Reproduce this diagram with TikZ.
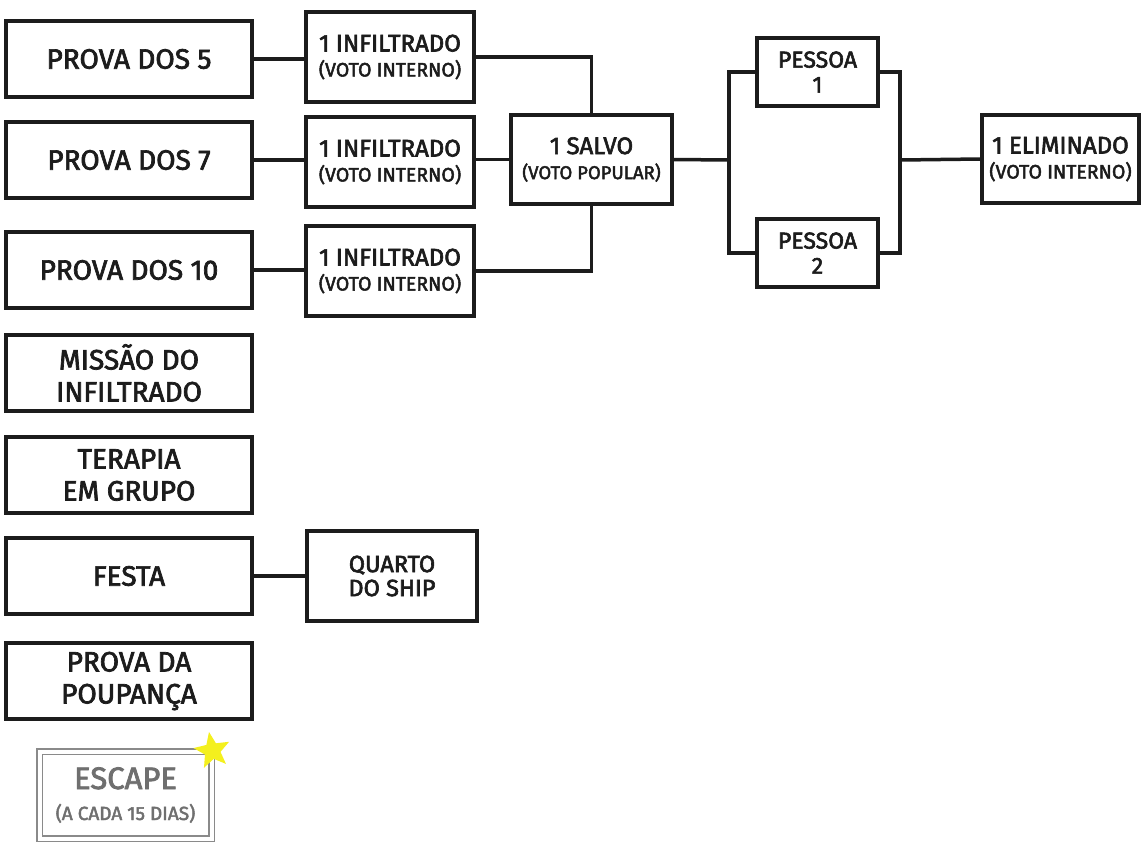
\documentclass[tikz,border=0pt]{standalone}
\usepackage{fontspec}
\setmainfont{Fira Sans}[FakeBold=2.5]
\usetikzlibrary{shapes.geometric}
\definecolor{ink}{HTML}{1C1C1C}
\definecolor{muted}{HTML}{8A8A8A}
\definecolor{mutedtext}{HTML}{6F6F6F}
\definecolor{spark}{HTML}{F4F01E}
\newcommand{\subline}[1]{{\fontsize{19.5}{20}\selectfont #1}}
\tikzset{
  every node/.style={inner sep=0pt,align=center,text=ink},
  stage/.style={draw=ink,line width=3.5pt,minimum width=246pt,minimum height=76pt,
    font=\fontsize{28}{32}\selectfont},
  vote/.style={draw=ink,line width=3.5pt,minimum width=168pt,minimum height=90pt,
    font=\fontsize{24}{25}\selectfont},
  person/.style={draw=ink,line width=3.5pt,minimum width=121pt,minimum height=68pt,
    font=\fontsize{23}{25}\selectfont},
  link/.style={draw=ink,line width=3.5pt}}

\begin{document}
\begin{tikzpicture}[x=1pt,y=-1pt]
\path[use as bounding box,fill=white] (0,0) rectangle (1142,844);
% activities
\foreach \nm/\yy/\txt in {p5/59/PROVA DOS 5,p7/160/PROVA DOS 7,p10/270/PROVA DOS 10,
  missao/373/{MISSÃO DO\\INFILTRADO},terapia/475/{TERAPIA\\EM GRUPO},
  festa/576/FESTA,poupanca/681/{PROVA DA\\POUPANÇA}}
  \node[stage] (\nm) at (129,\yy) {\txt};
% votes
\foreach \nm/\yy in {inf1/57,inf2/162,inf3/271}
  \node[vote] (\nm) at (390,\yy) {1 INFILTRADO\\\subline{(VOTO INTERNO)}};
\node[vote,minimum width=161pt,minimum height=89pt] (salvo) at (591.5,159.5)
  {1 SALVO\\{\fontsize{18.5}{20}\selectfont(VOTO POPULAR)}};
\node[person] (pes1) at (817.5,72) {PESSOA\\1};
\node[person] (pes2) at (817.5,253) {PESSOA\\2};
\node[vote,minimum width=157pt,minimum height=88pt] (elim) at (1060.5,159)
  {1 ELIMINADO\\\subline{(VOTO INTERNO)}};
\node[vote,minimum width=170pt,font=\fontsize{23.5}{24}\selectfont] (quarto) at (392,576)
  {QUARTO\\DO SHIP};
% escape
\node[draw=muted,double=white,double distance=4pt,line width=1.6pt,
  minimum width=172pt,minimum height=87pt,text=mutedtext,
  font=\fontsize{31}{31}\selectfont] (escape) at (125.5,795)
  {ESCAPE\\{\fontsize{19}{20}\selectfont(A CADA 15 DIAS)}};
\node[star,star points=5,star point ratio=2.3,fill=spark,minimum size=38pt,
  rotate=10] (sparkle) at (escape.north east) {};
% connectors
\foreach \a/\b in {p5/inf1,p7/inf2,p10/inf3}
  \draw[link] (\a.east) -- (\a.east -| \b.west);
\draw[link] (inf1.east) -| (salvo.north);
\draw[link] (salvo.west -| inf2.east) -- (salvo.west);
\draw[link] (inf3.east) -| (salvo.south);
\coordinate (jl) at (729,160);
\coordinate (jr) at (900,160);
\draw[link] (salvo.east) -- (jl);
\draw[link] (pes1.west) -| (jl) |- (pes2.west);
\draw[link] (pes1.east) -| (jr) |- (pes2.east);
\draw[link] (jr) -- (elim.west);
\draw[link] (festa.east) -- (quarto.west);
\end{tikzpicture}
\end{document}
